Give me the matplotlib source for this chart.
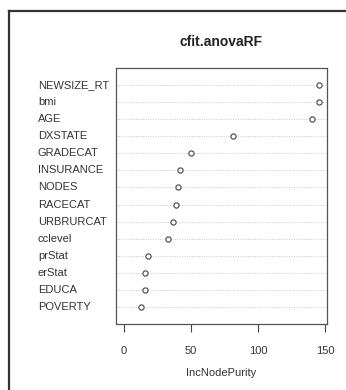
import matplotlib
matplotlib.use("Agg")
import matplotlib.pyplot as plt
from matplotlib.lines import Line2D
from matplotlib.transforms import blended_transform_factory

plt.rcParams['font.family'] = ['Liberation Sans', 'DejaVu Sans']

variables = ["NEWSIZE_RT", "bmi", "AGE", "DXSTATE", "GRADECAT", "INSURANCE",
             "NODES", "RACECAT", "URBRURCAT", "cclevel", "prStat", "erStat",
             "EDUCA", "POVERTY"]
inc_node_purity = [144.9, 145.4, 140.2, 81.2, 49.8, 41.5, 40.2, 38.7, 36.3,
                   33.1, 18.0, 15.8, 15.8, 13.0]
x_ticks = [0, 50, 100, 150]
title = "cfit.anovaRF"
x_label = "IncNodePurity"

fig = plt.figure(figsize=(3.46, 3.90), dpi=100)
ax = fig.add_axes([116 / 346, 66 / 390, 211 / 346, 256 / 390])

n = len(variables)
ypos = [n - i for i in range(n)]
for y in ypos:
    ax.axhline(y, color="#c8c8c8", lw=0.7, ls=(0, (1, 1.5)), zorder=1)
ax.scatter(inc_node_purity, ypos, s=14, facecolors="white",
           edgecolors="#555555", linewidths=0.9, zorder=3)

xmax = max(inc_node_purity)
ax.set_xlim(-0.04 * xmax, 1.04 * xmax)
ax.set_ylim(0, n + 1)
ax.set_yticks([])
ax.set_xticks(x_ticks)
ax.set_xticklabels([str(t) for t in x_ticks], fontsize=8, color="#333333")
ax.tick_params(axis="x", length=6, width=0.8, color="#444444", pad=10)
for s in ax.spines.values():
    s.set_color("#555555")
    s.set_linewidth(0.9)

label_tr = blended_transform_factory(fig.transFigure, ax.transData)
for y, name in zip(ypos, variables):
    fig.text(38 / 346, y, name, transform=label_tr,
             fontsize=8, color="#333333", va="center", ha="left")

fig.text(221.5 / 346, 1 - 42 / 390, title, fontsize=10, fontweight="bold",
         color="#222222", ha="center", va="center")
fig.text(221.5 / 346, 1 - 373 / 390, x_label, fontsize=8, color="#333333",
         ha="center", va="center")

# frame around the figure (top and left edges)
fig.add_artist(Line2D([8.5 / 346, 1.0], [1 - 10.5 / 390] * 2,
                      transform=fig.transFigure, color="#333333", lw=1.6))
fig.add_artist(Line2D([8.5 / 346] * 2, [0, 1 - 10.5 / 390],
                      transform=fig.transFigure, color="#333333", lw=1.6))

fig.savefig("out.png", dpi=100)
